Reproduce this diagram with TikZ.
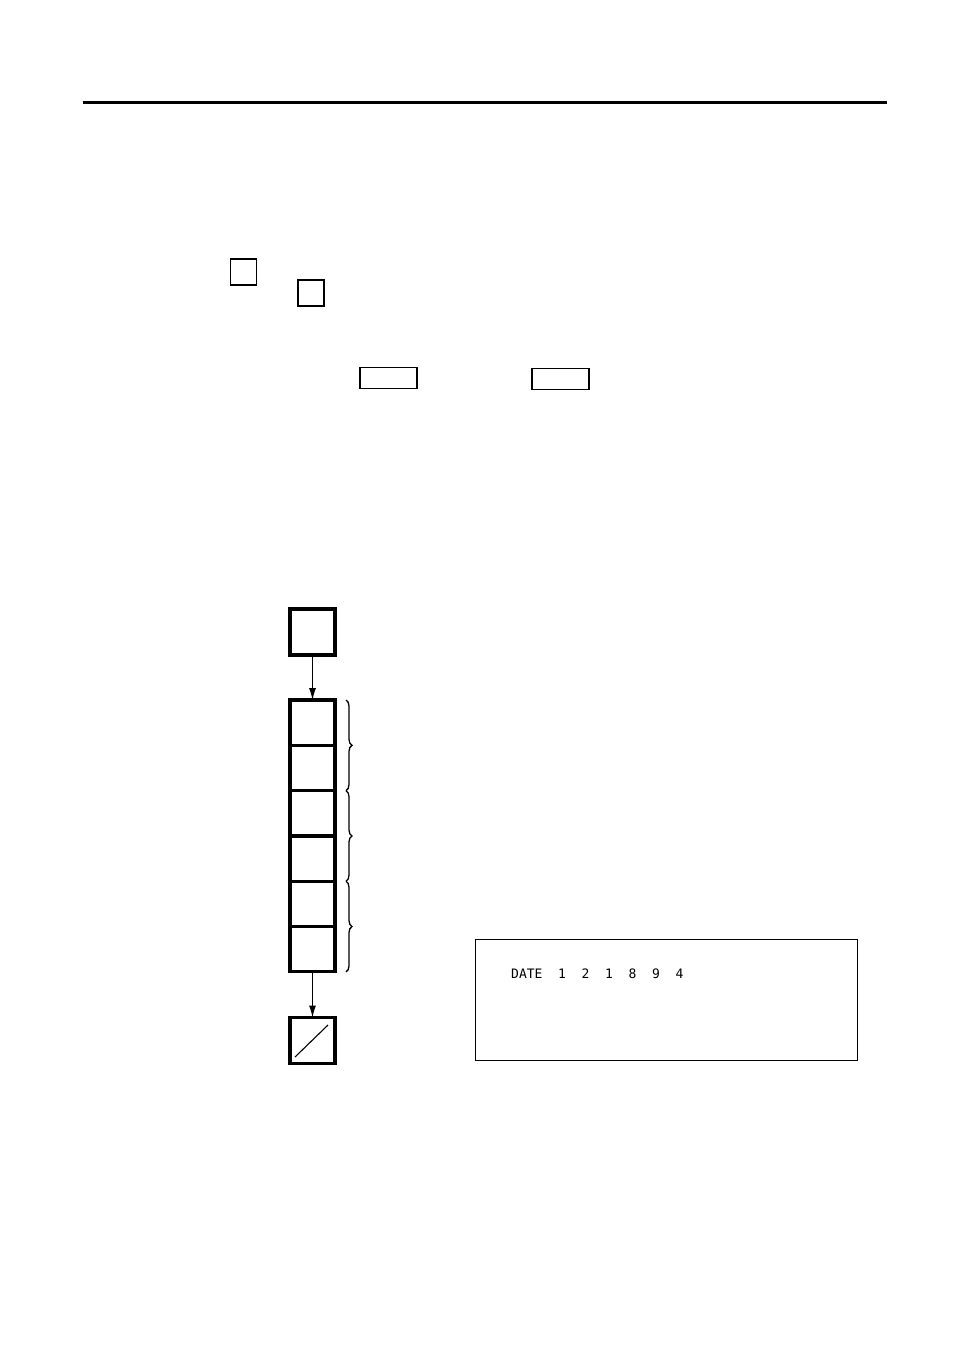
\documentclass[tikz,border=0pt]{standalone}
\usepackage{fontspec}
\newfontfamily\dispfont{DejaVu Sans Mono}
\usetikzlibrary{positioning,arrows.meta,decorations.pathreplacing}

\begin{document}
\begin{tikzpicture}[
  x=1pt, y=-1pt,
  keybox/.style={
    draw,
    line width=1.5pt,
    minimum width=26pt,
    minimum height=26pt,
    inner sep=0pt
  },
  widekey/.style={draw, line width=1.3pt, minimum width=57pt, minimum height=21pt, inner sep=0pt},
  stepbox/.style={draw, line width=3.2pt, minimum width=45pt, minimum height=45.3pt, inner sep=0pt, outer sep=0pt},
  flow/.style={-{Latex[length=12pt,width=7pt]}, line width=1pt},
  grp/.style={decorate, decoration={brace, amplitude=6pt}, line width=1.3pt}
]
  \useasboundingbox (0,0) rectangle (954,1348);

  \draw[line width=3pt] (83,103) -- (887,103);

  \node[keybox] (keyA) at (243.5,272) {};
  \node[keybox] (keyB) at (311,293) {};
  \node[widekey] (keyC) at (388.5,378) {};
  \node[widekey] (keyD) at (560.5,379) {};

  \node[stepbox, minimum height=46pt] (start) at (312.5,632) {};
  \node[stepbox] (c1) at (312.5,722.7) {};
  \node[stepbox, below=0pt of c1] (c2) {};
  \node[stepbox, below=0pt of c2] (c3) {};
  \node[stepbox, below=0pt of c3] (c4) {};
  \node[stepbox, below=0pt of c4] (c5) {};
  \node[stepbox, below=0pt of c5] (c6) {};
  \node[stepbox, minimum height=46pt] (finish) at (312.5,1040.5) {};
  \draw[line width=1.1pt] ([shift={(-17.5pt,-16.5pt)}]finish.center) -- ([shift={(15.5pt,15.5pt)}]finish.center);

  \draw[flow] (start) -- (c1);
  \draw[flow] (c6) -- (finish);

  \draw[grp] ([xshift=11pt]c1.north east) -- ([xshift=11pt]c2.south east);
  \draw[grp] ([xshift=11pt]c3.north east) -- ([xshift=11pt]c4.south east);
  \draw[grp] ([xshift=11pt]c5.north east) -- ([xshift=11pt]c6.south east);

  \node[draw, line width=1pt, minimum width=382pt, minimum height=121pt, inner sep=0pt] (display) at (666,999.5) {};
  \node[anchor=base west, inner sep=0pt, font=\dispfont\fontsize{13}{15}\selectfont] (datetxt) at (511,978)
    {DATE\ \ 1\ \ 2\ \ 1\ \ 8\ \ 9\ \ 4};
\end{tikzpicture}
\end{document}
